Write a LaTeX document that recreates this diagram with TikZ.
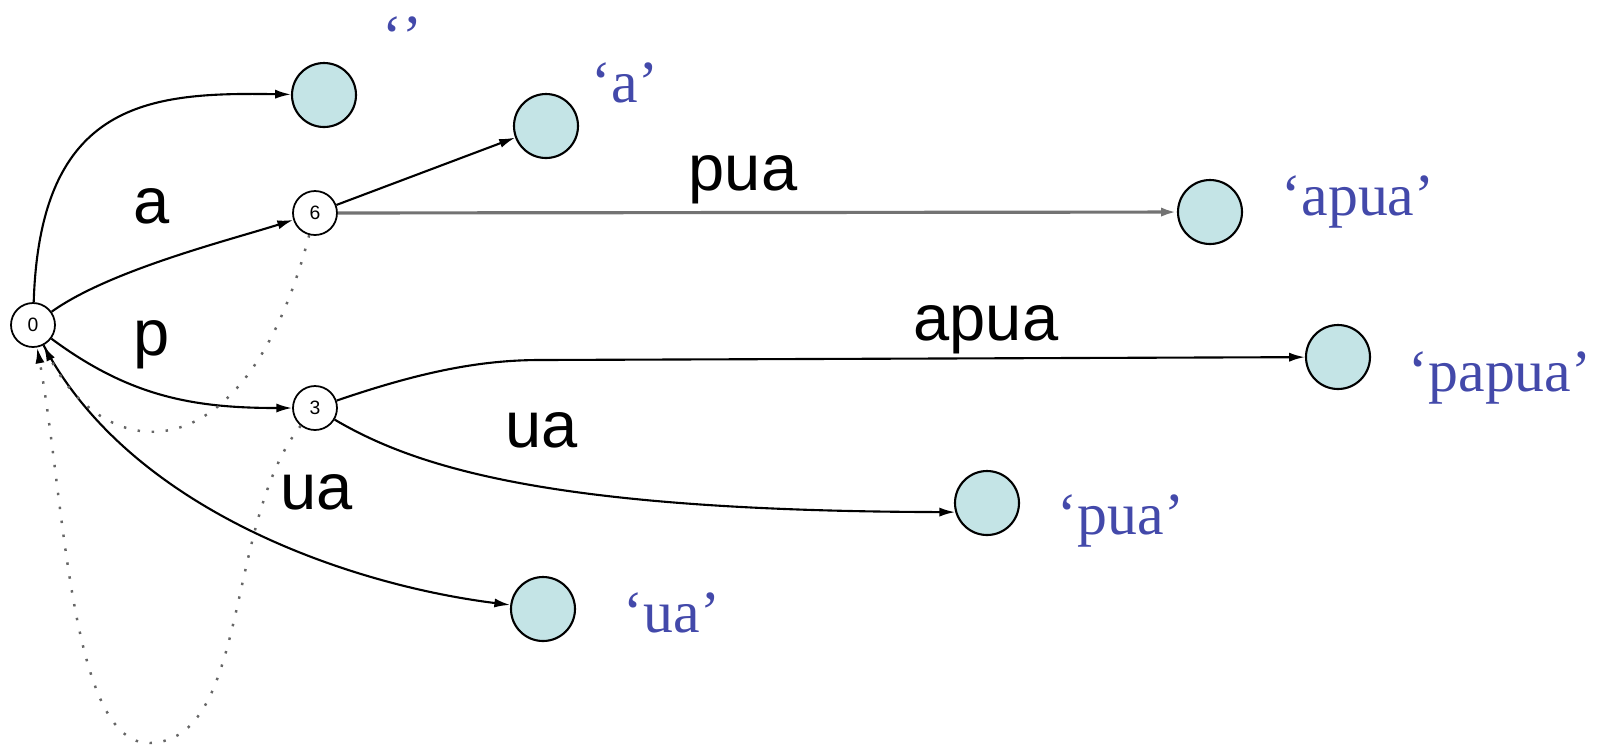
\documentclass[tikz,border=0pt]{standalone}
\usepackage{fontspec}
\setmainfont{Liberation Serif}
\setsansfont{Liberation Sans}
\usetikzlibrary{arrows.meta}
\definecolor{wordblue}{HTML}{4349AA}
\definecolor{leafbg}{HTML}{C4E4E6}
\tikzset{
  trie node/.style={
    circle,
    draw,
    line width=0.5pt,
    minimum size=4.4mm,
    inner sep=0pt,
    font=\fontsize{5.5}{6}\sffamily
  },
  leaf/.style={
    circle, draw, line width=0.6pt, fill=leafbg,
    minimum size=6.4mm, inner sep=0pt
  },
  word/.style={
    font=\fontsize{17}{20}\selectfont,
    text=wordblue, anchor=base, inner sep=0pt
  },
  edge lbl/.style={font=\fontsize{18.5}{22}\sffamily, anchor=base, inner sep=0pt},
  trans/.style={-{Latex[length=4.5pt,width=2.6pt]}, line width=0.6pt},
  plain trans/.style={trans, black!55, line width=0.9pt},
  fail/.style={
    -{Latex[length=4.5pt,width=2.6pt,color=black]},
    line width=0.7pt, black!60,
    dash pattern=on 0.7pt off 3.3pt
  }
}

\begin{document}
\begin{tikzpicture}[x=0.1mm, y=-0.1mm]
  \useasboundingbox (0,0) rectangle (1606,746);

  % Trie nodes
  \node[trie node] (n0) at (33, 325) {0};
  \node[trie node] (n6) at (315, 213) {6};
  \node[trie node] (n3) at (315, 408) {3};

  % Leaves
  \node[leaf] (lempty) at (324, 95) {};
  \node[leaf] (la)     at (546, 126) {};
  \node[leaf] (lapua)  at (1210, 212) {};
  \node[leaf] (lpapua) at (1338, 357) {};
  \node[leaf] (lpua)   at (987, 503) {};
  \node[leaf] (lua)    at (543, 609) {};

  % Words
  \node[word] (wempty) at (402, 56) {‘’};
  \node[word] (wa)     at (625, 102) {‘a’};
  \node[word] (wapua)  at (1358, 215) {‘apua’};
  \node[word] (wpapua) at (1500, 391) {‘papua’};
  \node[word] (wpua)   at (1121, 534) {‘pua’};
  \node[word] (wua)    at (672, 632) {‘ua’};

  % Edge labels
  \node[edge lbl] (ea)    at (152, 223) {a};
  \node[edge lbl] (ep)    at (152, 355) {p};
  \node[edge lbl] (epua)  at (743, 190) {pua};
  \node[edge lbl] (eapua) at (986, 340) {apua};
  \node[edge lbl] (eua)   at (542, 447) {ua};
  \node[edge lbl] (eua2)  at (317, 509) {ua};

  % Transitions
  \draw[trans] (n0) .. controls (40, 100) and (150, 92) .. (lempty);
  \draw[trans] (n0) .. controls (110, 270) and (230, 240) .. (n6);
  \draw[trans] (n0) .. controls (130, 397) and (194, 408) .. (n3);
  \draw[trans] (n0) .. controls (130, 510) and (350, 585) .. (lua);
  \draw[trans] (n6) -- (la);
  \draw[plain trans] (n6) -- (lapua);
  \draw[trans] (n3) .. controls (420, 372) and (480, 360) .. (540, 360) -- (lpapua);
  \draw[trans] (n3) .. controls (420, 470) and (560, 511) .. (lpua.196);

  % Failure links
  \draw[fail] (n6) .. controls (245, 480) and (105, 465) .. (n0);
  \draw[fail] (n3) .. controls (225, 520) and (250, 740) .. (150, 743)
    .. controls (70, 745) and (65, 500) .. (n0);
\end{tikzpicture}
\end{document}
